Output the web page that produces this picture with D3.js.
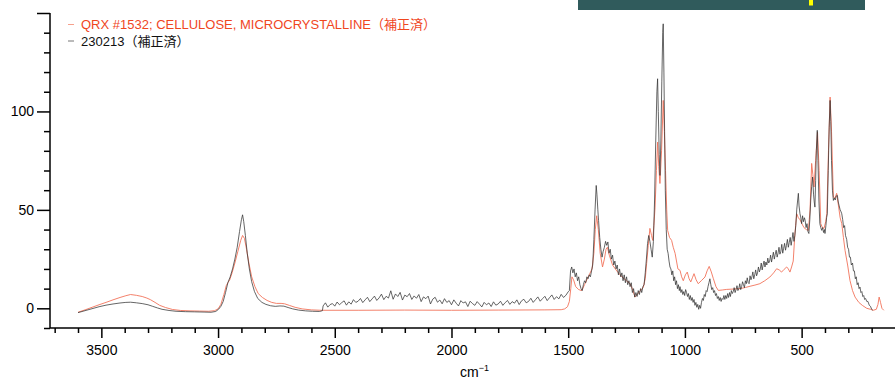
<!DOCTYPE html>
<html>
<head>
<meta charset="utf-8">
<script src="https://cdn.jsdelivr.net/npm/d3@7"></script>
<style>
  body { margin: 0; background: #fff; }
  svg { display: block; font-family: "Liberation Sans", Arial, "Noto Sans CJK JP", sans-serif; }
</style>
</head>
<body>
<svg id="chart" width="895" height="379"></svg>
<script>
// DATA

const seriesNames = ["QRX #1532; CELLULOSE, MICROCRYSTALLINE（補正済）", "230213（補正済）"];
const xMajorTicks = [3500, 3000, 2500, 2000, 1500, 1000, 500];
const yMajorTicks = [0, 50, 100, 150];
const yLabelTicks = [0, 50, 100];

// reference spectrum [wavenumber, intensity]
const refPts = [
  [3600,-2],[3570,-0.8],[3540,0.5],[3510,1.8],[3480,3],[3450,4.3],[3420,5.5],[3395,6.4],[3375,7],[3350,6.6],
  [3325,6],[3305,5.2],[3290,4.4],[3270,3],[3250,1.5],[3225,0.4],[3195,-0.6],[3160,-1.1],[3120,-1.3],[3080,-1.4],
  [3040,-1.5],[3015,-1.2],[3000,-0.3],[2988,2],[2975,7],[2965,11.5],[2958,13],[2950,14.5],[2940,18],[2928,23],
  [2915,29],[2903,34.5],[2895,37],[2887,35.5],[2878,30],[2868,23],[2856,16],[2842,11],[2828,7.5],[2810,5.5],
  [2790,4],[2770,3],[2750,2.5],[2730,2.5],[2715,2.3],[2695,1.5],[2670,0.5],[2640,-0.3],[2600,-0.8],[2560,-1],
  [2400,-1],[2200,-0.9],[2000,-1],[1800,-0.9],[1600,-0.8],[1530,-0.7],[1515,-0.3],[1503,0.8],[1495,3.5],[1489,10],
  [1484,16],[1477,14.5],[1468,11],[1455,9.5],[1442,9],[1430,12],[1418,15],[1408,17.5],[1398,20],[1390,28],
  [1384,40],[1378,47],[1371,40],[1363,28],[1353,21],[1345,25],[1338,30],[1332,31],[1324,27],[1310,22],
  [1292,19],[1270,16],[1250,14],[1235,12.5],[1222,9],[1214,5.7],[1205,7],[1190,9],[1178,10.8],[1170,15],
  [1164,22.8],[1157,32],[1150,40.6],[1143,37],[1138,34.5],[1133,42],[1128,51],[1122,70],[1117,84.4],[1112,72],
  [1107,63.4],[1100,80],[1093,105.6],[1088,90],[1083,70],[1078,50],[1074,39.6],[1066,36],[1057,34.5],[1050,31],
  [1042,27.9],[1030,20],[1021,19.3],[1014,16],[1007,14],[998,17],[990,18.4],[982,15],[975,13.4],[968,15.5],
  [961,17.6],[952,14.5],[943,12.5],[930,14],[914,15.9],[905,19],[896,21.3],[887,18.5],[878,15],[867,11],
  [857,9.1],[840,9.3],[821,9.6],[790,9.8],[764,10],[740,10.6],[721,11.2],[700,11.8],[679,12.5],[658,14],
  [636,15.9],[620,18],[607,20.1],[596,19.5],[586,18.4],[575,19.8],[564,21],[557,20],[550,18.4],[543,21],
  [536,24],[529,37.6],[521,48],[514,46],[507,45],[499,43],[490,41],[480,40],[471,39.6],[464,50],
  [457,73.6],[452,68],[447,61.6],[440,75],[432,89.5],[425,70],[418,43],[411,41],[404,40.6],[397,44],
  [392,48],[385,80],[378,107.3],[372,90],[364,56.5],[357,56],[350,58.4],[342,52],[335,46],[328,43],
  [321,36],[314,29.4],[303,22],[293,14.2],[282,9],[271,5.7],[255,3],[240,1.5],[221,0],[205,-0.5],
  [193,-1],[180,-0.5],[173,2],[168,5.7],[162,3],[156,0],[148,-1]
];

// measured sample spectrum [wavenumber, intensity]
const samplePts = [
  [3600,-2.2],[3570,-1.2],[3540,-0.2],[3510,0.8],[3480,1.6],[3450,2.2],[3420,2.7],[3395,3],[3375,3.1],[3350,2.8],
  [3325,2.4],[3300,1.8],[3280,1],[3260,0.2],[3240,-0.5],[3210,-1.1],[3180,-1.5],[3140,-1.7],[3100,-1.8],[3060,-1.9],
  [3030,-2],[3010,-1.6],[2998,-0.5],[2988,1],[2978,3.5],[2968,8],[2958,13],[2948,16],[2938,20],[2928,25],
  [2918,31],[2908,39],[2900,45],[2895,47.5],[2890,44],[2883,37],[2875,28],[2866,20],[2856,13.5],[2844,8.5],
  [2830,5],[2812,3],[2795,2],[2775,1.3],[2755,1],[2735,1.2],[2718,1.1],[2700,0.4],[2680,-0.3],[2655,-0.9],
  [2625,-1.3],[2595,-1.5],[2565,-1.6],[2553,-1.2],
  [2550,1.2],[2540,2.8],[2530,0.6],[2520,1.9],[2510,2.4],[2500,1.1],[2490,3.2],[2480,1.8],[2470,2.9],[2460,3.8],
  [2450,1.6],[2440,3.3],[2430,2.1],[2420,4.4],[2410,3.0],[2400,3.6],[2390,5.0],[2380,2.9],[2370,4.3],[2360,5.6],
  [2350,3.4],[2340,4.8],[2330,6.2],[2320,4.0],[2310,5.3],[2300,7.2],[2290,4.4],[2280,6.1],[2270,5.2],[2260,8.9],
  [2250,4.6],[2240,7.3],[2230,6.0],[2220,8.1],[2210,4.2],[2200,6.7],[2190,5.9],[2180,7.5],[2170,4.5],[2160,6.3],
  [2150,5.1],[2140,7.0],[2130,3.4],[2120,5.8],[2110,4.9],[2100,6.2],[2090,2.2],[2080,4.7],[2070,5.6],[2060,3.1],
  [2050,4.2],[2040,2.3],[2030,4.9],[2020,3.0],[2010,3.9],[2000,1.8],[1990,4.3],[1980,2.6],[1970,1.2],[1960,3.9],
  [1950,2.7],[1940,3.3],[1930,0.9],[1920,3.6],[1910,2.4],[1900,1.5],[1890,3.4],[1880,2.1],[1870,0.7],[1860,3.0],
  [1850,1.8],[1840,2.7],[1830,0.9],[1820,3.3],[1810,1.6],[1800,2.2],[1790,3.6],[1780,1.5],[1770,2.9],[1760,4.0],
  [1750,2.0],[1740,3.4],[1730,2.6],[1720,4.3],[1710,1.9],[1700,3.8],[1690,4.6],[1680,2.8],[1670,3.5],[1660,5.1],
  [1650,3.0],[1640,4.4],[1630,5.8],[1620,3.6],[1610,4.9],[1600,6.1],[1590,3.9],[1580,5.4],[1570,6.8],[1560,4.5],
  [1550,5.9],[1540,4.8],[1530,7.1],[1520,5.5],[1510,6.6],[1500,8.4],
  [1495,9],[1490,19],[1485,21],[1480,18],[1475,20],[1470,16],[1465,18],[1460,14],[1455,16],[1450,12],
  [1445,10],[1440,9],[1435,12],[1430,14],[1425,13],[1420,16],[1415,15],[1410,17],[1405,16],[1400,19],
  [1395,22],[1390,35],[1385,50],[1380,62.4],[1377,58],[1373,50],[1370,44.7],[1365,36],[1360,30],[1355,26],
  [1350,29],[1345,31],[1340,34],[1335,32],[1330,33.7],[1325,28],[1320,30],[1315,25],[1310,27],[1305,22],
  [1300,24],[1295,20],[1290,22],[1285,17],[1280,20],[1275,16],[1270,18],[1265,14],[1260,17],[1255,13],
  [1250,16],[1245,12],[1240,14],[1235,11],[1230,13],[1225,8],[1220,10],[1215,5.7],[1210,8],[1205,6],
  [1200,9],[1195,7],[1190,10],[1185,8],[1180,11],[1175,12],[1170,18],[1165,25],[1160,33],[1155,37],
  [1150,34],[1145,30],[1140,26],[1135,34],[1130,55],[1125,85],[1120,110],[1117,116.6],[1114,100],[1110,78],
  [1107,67.5],[1103,85],[1099,115],[1095,140],[1093,144.5],[1090,120],[1087,90],[1084,60],[1080,40],[1076,30],
  [1072,27.9],[1068,24],[1064,21],[1060,20],[1056,17],[1052,19],[1048,14],[1044,16],[1040,12],[1036,14],
  [1032,10],[1028,12],[1024,9],[1021,11],[1017,8],[1013,9.5],[1009,7],[1005,8.5],[1001,6.5],[997,9.5],
  [993,8],[989,6],[985,7.5],[981,4.5],[977,6.5],[973,4],[969,5.5],[965,3],[961,4.5],[957,1.5],
  [953,3],[949,0.5],[945,2],[941,-0.5],[937,1.5],[933,0],[929,3],[925,5],[921,4],[917,7],
  [913,6],[909,9],[905,8.5],[901,11],[897,13],[893,15],[889,12],[885,9.5],[881,10.5],[877,8],
  [873,9],[869,6.5],[865,7.5],[861,5],[857,6],[853,4],[849,5.5],[845,3.5],[841,5],[837,4.5],
  [833,6.5],[829,4.5],[825,6.5],[821,5],[817,7.5],[813,5.5],[809,8],[805,6],
  [801,9],[797,7.5],[793,8.5],[789,10.5],[785,8],[781,9.5],[777,11.5],[773,9],[769,10],[765,12.5],
  [761,9.5],[757,11],[753,13.5],[749,12],[745,10.5],[741,14],[737,12.5],[733,15.5],[729,13],[725,12.5],
  [721,16.5],[717,14.5],[713,16],[709,18.5],[705,15],[701,17],[697,19.5],[693,16.5],[689,18],[685,21],
  [681,18.5],[677,20],[673,23],[669,19.5],[665,22],[661,24],[657,21],[653,23.5],[649,22],[645,25.5],
  [641,23],[637,24],[633,27],[629,23.5],[625,26],[621,28.5],[617,25],[613,27.5],[609,29.5],[605,26],
  [601,28],[597,31],[593,27.5],[589,29],[585,32.5],[581,28],[577,30.5],[573,33],[569,29.5],[565,32],
  [561,35],[557,31],[553,33.5],[549,36],[545,32],[541,35],[537,38.5],[533,34],[529,37],[525,42],
  [521,50],[517,55],
  [514,58.4],[511,52],[507,48],[504,46.4],[500,43],[496,47],[492,44],[488,46],[485,44.7],[481,41],
  [477,43],[473,39],[469,38],[465,45],[461,55],[457,62],[453,66.7],[449,58],[446,54],[443,51.4],
  [440,65],[437,80],[433,90.4],[430,75],[426,55],[422,43],[418,41],[414,39.6],[410,41],[406,38.5],
  [402,40],[400,38],[396,42],[393,46],[390,48],[386,70],[382,92],[378,105.6],[375,95],[372,75],
  [368,60],[364,54.8],[360,56],[356,55],[352,57],[347,57.4],[343,54],[339,52],[335,50],[331,49],
  [328,48],[324,45],[320,41],[316,42],[312,37],[307,35],[303,31],[299,30],[295,26],[291,26],
  [287,22],[282,23],[278,19],[274,19],[270,15],[266,16],[262,12],[258,13],[254,10],[250,10.8],
  [246,8],[242,8.5],[238,6],[234,6.5],[230,4.5],[226,5],[221,3.5],[216,3.5],[210,1.5],[205,1],
  [200,-0.5],[195,-1]
];

// RENDERING

const svg = d3.select("#chart");
const x = d3.scaleLinear().domain([3720, 100]).range([50, 895]);
const y = d3.scaleLinear().domain([-10, 150]).range([328, 13]);

// header strip at top (cropped window)
svg.append("rect").attr("x", 578).attr("y", 0).attr("width", 287).attr("height", 10).attr("fill", "#305b5c");
svg.append("rect").attr("x", 809).attr("y", 0).attr("width", 4).attr("height", 5.5).attr("fill", "#ffff00");

// x axis
const xMinor = d3.range(3700, 100, -100).filter(function(d){ return d % 500 !== 0; });
const xAxisG = svg.append("g").attr("transform", "translate(0,328)");
xAxisG.call(d3.axisBottom(x).tickValues(xMinor).tickSize(5).tickFormat(""));
xAxisG.append("g").call(d3.axisBottom(x).tickValues(xMajorTicks).tickSize(10).tickPadding(4).tickFormat(d3.format("d")));
xAxisG.selectAll(".domain").remove();
xAxisG.append("line").attr("x1", 50).attr("x2", 895).attr("y1", 0).attr("y2", 0).attr("stroke", "#000").attr("stroke-width", 1.5);
xAxisG.selectAll(".tick line").attr("stroke", "#000").attr("stroke-width", 1.5);
xAxisG.selectAll("text").attr("fill", "#000").style("font-size", "14px").attr("dy", "0.95em");

svg.append("text")
  .attr("x", 460).attr("y", 377)
  .style("font-size", "14px")
  .html('cm<tspan dy="-6" style="font-size:9px">\u22121</tspan>');

// y axis
const yMinor = d3.range(-10, 151, 10).filter(function(d){ return d % 50 !== 0; });
const yAxisG = svg.append("g").attr("transform", "translate(50,0)");
yAxisG.call(d3.axisLeft(y).tickValues(yMinor).tickSize(6).tickFormat(""));
yAxisG.append("g").call(d3.axisLeft(y).tickValues(yMajorTicks).tickSize(13).tickPadding(3)
  .tickFormat(function(d){ return yLabelTicks.indexOf(d) >= 0 ? d : ""; }));
yAxisG.selectAll(".domain").remove();
yAxisG.append("line").attr("x1", 0).attr("x2", 0).attr("y1", 13).attr("y2", 328).attr("stroke", "#000").attr("stroke-width", 1.5);
yAxisG.selectAll(".tick line").attr("stroke", "#000").attr("stroke-width", 1.5);
yAxisG.selectAll("text").attr("fill", "#000").style("font-size", "14px");

// spectra
const line = d3.line().x(function(d){ return x(d[0]); }).y(function(d){ return y(d[1]); });

svg.append("path").datum(refPts)
  .attr("d", line).attr("fill", "none").attr("stroke", "#f2735a").attr("stroke-width", 0.9);
svg.append("path").datum(samplePts)
  .attr("d", line).attr("fill", "none").attr("stroke", "#333").attr("stroke-width", 0.75);

// legend
const legendColors = ["#f0461e", "#111"];
const dashColors = ["#f6a08c", "#777"];
seriesNames.forEach(function(name, i){
  const by = 29 + i * 16.5;
  svg.append("line").attr("x1", 68).attr("x2", 74).attr("y1", by - 4.5).attr("y2", by - 4.5)
    .attr("stroke", dashColors[i]).attr("stroke-width", 1);
  svg.append("text").attr("x", 81).attr("y", by)
    .attr("fill", legendColors[i]).style("font-size", "13px").text(name);
});
</script>
</body>
</html>
